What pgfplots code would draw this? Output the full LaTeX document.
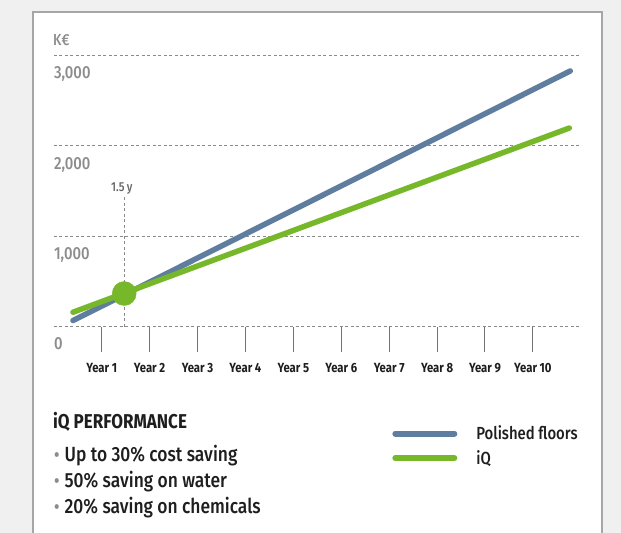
\documentclass[border=0pt]{standalone}
\usepackage{pgfplots}
\pgfplotsset{compat=1.18}
\usepackage{fontspec}
\setmainfont{Fira Sans}[FakeStretch=0.85, UprightFont={* Medium}, BoldFont={* Bold}]
\definecolor{bluel}{HTML}{5F7D9F}
\definecolor{greenl}{HTML}{77B82A}
\definecolor{labgray}{HTML}{8C8C8C}
\definecolor{gridgray}{HTML}{8A8A8A}
\definecolor{bgc}{HTML}{F0F0F0}
\definecolor{borderc}{HTML}{A6A6A6}
\definecolor{txt}{HTML}{1E1E1E}
\newcommand{\bul}{\hspace{1bp}{\color{labgray}\fontsize{19bp}{20bp}\selectfont•}\hspace{5bp}}
\begin{document}
\begin{tikzpicture}
\useasboundingbox (0,0) rectangle (621bp,-533bp);
\fill[bgc] (0,0) rectangle (621bp,-533bp);
\fill[white] (33bp,-12bp) rectangle (602bp,-540bp);
\draw[borderc, line width=2bp] (33bp,-540bp) -- (33bp,-12bp) -- (602bp,-12bp) -- (602bp,-540bp);
\begin{axis}[
  at={(53.8bp,-326.5bp)}, anchor=south west,
  scale only axis, width=527bp, height=271bp,
  xmin=0, xmax=11, ymin=0, ymax=3000,
  axis lines*=left, axis line style={draw=none},
  clip=false,
  xtick={1,2,3,4,5,6,7,8,9,10},
  xticklabels={Year 1,Year 2,Year 3,Year 4,Year 5,Year 6,Year 7,Year 8,Year 9,Year 10},
  tick align=outside,
  major tick length=25.5bp,
  xtick style={draw=black!55, line width=1bp},
  ytick={0,1000,2000,3000},
  ytick style={draw=none},
  ymajorgrids,
  major grid style={gridgray, line width=0.9bp, dash pattern=on 3bp off 2.5bp},
  yticklabel style={anchor=north west, inner sep=0pt, xshift=25.5bp, yshift=-11bp, text=labgray, font=\fontsize{17.5bp}{19bp}\selectfont},
  xticklabel style={font=\fontsize{13.3bp}{15bp}\selectfont\bfseries, text=txt, yshift=-8bp},
  /pgf/number format/1000 sep={,},
  /pgf/number format/assume math mode=true,
  legend style={at={(0.642,-0.366)}, anchor=north west, draw=none, fill=none, inner sep=0pt,
    font=\fontsize{17.5bp}{20bp}\selectfont, text=txt, row sep=9bp,
    nodes={inner sep=0pt}},
  legend cell align=left,
  legend image code/.code={\draw[#1, line width=6bp, line cap=round] (3bp,0bp) -- (62bp,0bp);},
  /tikz/every odd column/.append style={column sep=19bp},
]
\addplot[gridgray, line width=0.9bp, dash pattern=on 3bp off 2.5bp, forget plot] coordinates {(1.47,0) (1.47,1434)};
\addplot[bluel, line width=5.5bp, line cap=round] coordinates {(0.4,66) (10.78,2829)};
\addlegendentry{Polished floors}
\addplot[greenl, line width=5.5bp, line cap=round] coordinates {(0.4,158) (10.76,2197)};
\addlegendentry{iQ}
\addplot[only marks, mark=*, mark size=12bp, greenl, forget plot] coordinates {(1.47,365)};
\node[text=black!60, font=\fontsize{13bp}{15bp}\selectfont] at (axis cs:1.42,1530) {1.5\,y};
\end{axis}
\node[anchor=west, text=labgray, font=\fontsize{16bp}{18bp}\selectfont, inner sep=0pt] at (53bp,-40bp) {K€};
\node[anchor=base west, text=txt, inner sep=0pt, font=\fontsize{20bp}{22bp}\selectfont\bfseries] at (53bp,-428bp) {iQ PERFORMANCE};
\node[anchor=base west, text=txt, inner sep=0pt, font=\fontsize{20.5bp}{22bp}\selectfont] at (53bp,-461bp) {\bul Up to 30\% cost saving};
\node[anchor=base west, text=txt, inner sep=0pt, font=\fontsize{20.5bp}{22bp}\selectfont] at (53bp,-487bp) {\bul 50\% saving on water};
\node[anchor=base west, text=txt, inner sep=0pt, font=\fontsize{20.5bp}{22bp}\selectfont] at (53bp,-513bp) {\bul 20\% saving on chemicals};
\end{tikzpicture}
\end{document}
